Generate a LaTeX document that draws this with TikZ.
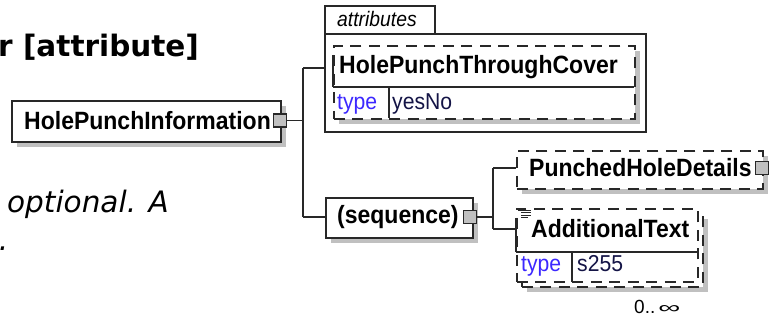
\documentclass[tikz,border=0pt]{standalone}
\usepackage{fontspec}
\usepackage{graphicx}
\setmainfont{Liberation Sans}
\newfontfamily\dejavu{DejaVu Sans}
\newfontfamily\boxfont[FakeStretch=0.92]{Liberation Sans}
\usetikzlibrary{shadows}
\definecolor{linec}{RGB}{40,40,40}
\definecolor{shadowc}{RGB}{192,192,192}
\definecolor{expc}{RGB}{192,192,192}
\definecolor{typec}{RGB}{60,40,255}
\definecolor{valc}{RGB}{20,20,70}
\begin{document}
\begin{tikzpicture}[x=1pt,y=-1pt,
 conn/.style={draw=linec,line width=1.6pt},
 boxshadow/.style={drop shadow={shadow xshift=5pt,shadow yshift=-5pt,fill=shadowc,opacity=1}},
 elbox/.style={draw=linec,line width=1.7pt,fill=white,inner sep=0pt,anchor=north west},
 optdash/.style={dash pattern=on 11pt off 7.5pt},
 expander/.style={draw=linec,fill=expc,line width=1.2pt,minimum width=13pt,minimum height=13pt,inner sep=0pt},
 lbl/.style={font=\boxfont\fontsize{25}{29}\selectfont\bfseries,inner sep=0pt,anchor=base west},
 typelbl/.style={font=\boxfont\fontsize{23}{27}\selectfont,text=typec,inner sep=0pt,anchor=base west},
 vallbl/.style={font=\boxfont\fontsize{23}{27}\selectfont,text=valc,inner sep=0pt,anchor=base west},
 icon/.style={draw=linec,line width=0.9pt}
]
\useasboundingbox[fill=white] (0,0) rectangle (770,320);

% left texts
\node[font=\dejavu\bfseries\fontsize{29.5}{34}\selectfont,inner sep=0pt,anchor=base west] (title) at (-2,57) {r [attribute]};
\node[font=\dejavu\itshape\fontsize{29.5}{34}\selectfont,inner sep=0pt,anchor=base east] (desc1) at (169,213) {is optional. A};
\node[font=\dejavu\itshape\fontsize{29.5}{34}\selectfont,inner sep=0pt,anchor=base east] (desc2) at (8.4,251) {s.};

% main element
\node[elbox,boxshadow,minimum width=269pt,minimum height=41pt] (hpi) at (11,100) {};
\node[lbl] (hpit) at (24,130) {HolePunchInformation};
\node[expander] (hpix) at (280,120.5) {};

% attributes group
\node[elbox,minimum width=321pt,minimum height=98pt] (attr) at (324,33) {};
\node[elbox,minimum width=110pt,minimum height=28pt] (tab) at (324,5) {};
\node[font=\boxfont\fontsize{21}{25}\selectfont\itshape,inner sep=0pt,anchor=base west] (tabt) at (337,27) {attributes};

\node[elbox,optdash,boxshadow,minimum width=301pt,minimum height=73pt] (hptc) at (333,45) {};
\draw[conn] (333,87) -- (634,87);
\draw[conn] (389,87) -- (389,118);
\draw[conn] (333,55) -- (333,87);
\node[lbl] (hptct) at (339,74) {HolePunchThroughCover};
\node[typelbl] (hptctype) at (337,110) {type};
\node[vallbl] (hptcval) at (392,110) {yesNo};

% sequence
\node[elbox,boxshadow,minimum width=147pt,minimum height=40pt] (seq) at (325,197) {};
\node[lbl] (seqt) at (337,224) {(sequence)};
\node[expander] (seqx) at (470,217) {};

% PunchedHoleDetails
\node[elbox,optdash,boxshadow,minimum width=246pt,minimum height=38pt] (phd) at (516,150) {};
\node[lbl] (phdt) at (529,177) {PunchedHoleDetails};
\node[expander] (phdx) at (762,168) {};

% AdditionalText (multiple)
\node[elbox,optdash,boxshadow,minimum width=181pt,minimum height=73pt] (atback) at (521,213) {};
\node[elbox,optdash,minimum width=181pt,minimum height=73pt] (atmain) at (516,208) {};
\draw[conn] (516,252) -- (697,252);
\draw[conn] (572,252) -- (572,282);
\draw[conn] (516,218) -- (516,252);
\draw[icon] (518,210) -- (531,210);
\draw[icon] (521,212.6) -- (531,212.6);
\draw[icon] (521,215.2) -- (531,215.2);
\draw[icon] (521,217.8) -- (528,217.8);
\node[lbl] (att) at (531,237) {AdditionalText};
\node[typelbl] (attype) at (521,271) {type};
\node[vallbl] (atval) at (577,271) {s255};
\node[font=\fontsize{19}{22}\selectfont,inner sep=0pt,anchor=base west] (occ) at (634,313) {0..\hspace{3pt}\resizebox{22pt}{8pt}{∞}};

% connectors
\coordinate (j1) at (303,120.5);
\coordinate (ja) at (303,68);
\coordinate (js) at (303,217);
\coordinate (j2) at (493,217);
\coordinate (jp) at (493,168);
\coordinate (jt) at (493,229);
\draw[conn] (hpix.east) -- (j1);
\draw[conn] (ja) -- (js);
\draw[conn] (ja) -- (ja -| attr.west);
\draw[conn] (js) -- (js -| seq.west);
\draw[conn] (seqx.east) -- (j2);
\draw[conn] (jp) -- (jt);
\draw[conn] (jp) -- (jp -| phd.west);
\draw[conn] (jt) -- (jt -| atmain.west);
\end{tikzpicture}
\end{document}
